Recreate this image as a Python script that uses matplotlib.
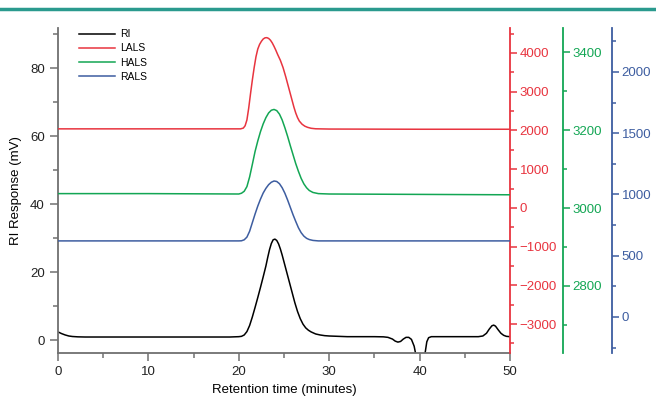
import matplotlib
matplotlib.use("Agg")
import matplotlib.pyplot as plt
from matplotlib.lines import Line2D

plt.rcParams["font.family"] = ["Liberation Sans", "DejaVu Sans"]

# RI detector (mV), left axis
ri_t = [0, 0.4, 0.8, 1.2, 1.6, 2.2, 3, 5, 10, 15, 19, 20, 20.3, 20.6, 20.9, 21.2,
        21.5, 21.8, 22.1, 22.4, 22.7, 23.0, 23.2, 23.4, 23.6, 23.8, 24.0, 24.2,
        24.4, 24.6, 24.8, 25.0, 25.3, 25.6, 25.9, 26.2, 26.5, 26.8, 27.1, 27.4,
        27.7, 28.0, 28.5, 29.0, 29.5, 30, 32, 35, 36, 36.5, 37, 37.3, 37.6, 37.9,
        38.2, 38.5, 38.8, 39.1, 39.4, 39.6, 39.8, 40.4, 40.6, 40.8, 41.0, 41.3,
        42, 45, 46.5, 47, 47.4, 47.7, 48.0, 48.2, 48.4, 48.7, 49.0, 49.3, 49.6, 50]
ri_v = [2.4, 1.9, 1.5, 1.2, 1.05, 0.95, 0.9, 0.9, 0.9, 0.9, 0.9, 1.0, 1.1, 1.5,
        2.5, 4.3, 6.8, 9.6, 12.5, 15.5, 18.6, 21.8, 24.3, 26.6, 28.4, 29.5, 29.7,
        29.3, 28.3, 26.8, 25.0, 23.0, 20.0, 17.0, 14.0, 11.0, 8.4, 6.3, 4.7, 3.6,
        2.9, 2.4, 1.8, 1.5, 1.3, 1.2, 1.0, 1.0, 0.95, 0.8, 0.3, -0.3, -0.6, -0.4,
        0.3, 0.8, 0.8, 0.2, -1.8, -4.5, -8, -8, -4, -0.5, 0.7, 1.0, 1.0, 1.0, 1.0,
        1.2, 2.0, 3.2, 4.2, 4.4, 4.1, 3.0, 2.0, 1.4, 1.1, 1.0]

# LALS, red axis
lals_t = [0, 10, 20, 20.2, 20.5, 20.7, 20.9, 21.1, 21.3, 21.5, 21.7, 21.9, 22.1,
          22.3, 22.5, 22.7, 22.9, 23.1, 23.3, 23.5, 23.7, 23.9, 24.1, 24.3, 24.6,
          24.9, 25.2, 25.5, 25.8, 26.1, 26.3, 26.5, 26.7, 27.0, 27.3, 27.6, 28.0,
          28.5, 30, 40, 50]
lals_v = [2040, 2040, 2040, 2040, 2060, 2120, 2270, 2580, 2950, 3300, 3620, 3900,
          4100, 4220, 4300, 4360, 4390, 4395, 4375, 4330, 4260, 4170, 4070, 3960,
          3810, 3620, 3380, 3120, 2860, 2600, 2450, 2330, 2240, 2160, 2110, 2080,
          2055, 2042, 2035, 2030, 2030]

# HALS, green axis
hals_t = [0, 10, 20, 20.3, 20.6, 20.9, 21.2, 21.5, 21.8, 22.1, 22.4, 22.7, 23.0,
          23.3, 23.6, 23.9, 24.2, 24.5, 24.8, 25.1, 25.4, 25.7, 26.0, 26.3, 26.6,
          26.9, 27.2, 27.5, 27.8, 28.2, 28.8, 30, 40, 50]
hals_v = [3037, 3037, 3036, 3038, 3043, 3055, 3080, 3112, 3145, 3172, 3196, 3216,
          3232, 3244, 3251, 3253, 3250, 3241, 3226, 3206, 3184, 3160, 3137, 3114,
          3094, 3076, 3062, 3052, 3045, 3040, 3037, 3036, 3035, 3034]

# RALS, blue axis
rals_t = [0, 10, 20, 20.3, 20.6, 20.9, 21.2, 21.5, 21.8, 22.1, 22.4, 22.7, 23.0,
          23.3, 23.6, 23.9, 24.2, 24.5, 24.8, 25.1, 25.4, 25.7, 26.0, 26.3, 26.6,
          26.9, 27.2, 27.5, 27.8, 28.2, 28.8, 30, 40, 50]
rals_v = [621, 621, 621, 622, 630, 652, 700, 770, 840, 905, 962, 1012, 1050, 1080,
          1100, 1110, 1106, 1088, 1055, 1010, 955, 895, 835, 780, 728, 688, 660,
          642, 632, 625, 621, 621, 621, 621]

c_red = "#e8343f"
c_green = "#13a654"
c_blue = "#3d5da0"
c_gray = "#707070"

fig = plt.figure(figsize=(6.56, 4.13), dpi=100)
fig.add_artist(Line2D([0, 1], [0.977, 0.977], color="#2a9a8e", lw=2.5,
                      transform=fig.transFigure))

ax = fig.add_axes([0.0884, 0.1453, 0.689, 0.7869])
ax2 = ax.twinx()
ax3 = ax.twinx()
ax4 = ax.twinx()

for a in (ax, ax2, ax3, ax4):
    a.set_xlim(0, 50)
    a.spines["top"].set_visible(False)
    a.patch.set_visible(False)

ax.spines["right"].set_visible(False)
for s in ("left", "bottom"):
    ax.spines[s].set_color(c_gray)
    ax.spines[s].set_linewidth(1.3)

for a in (ax2, ax3, ax4):
    a.spines["left"].set_visible(False)
    a.spines["bottom"].set_visible(False)

ax3.spines["right"].set_position(("axes", 1.117))
ax4.spines["right"].set_position(("axes", 1.2257))

l1, = ax.plot(ri_t, ri_v, color="black", lw=1.1, label="RI")
l2, = ax2.plot(lals_t, lals_v, color=c_red, lw=1.1, label="LALS")
l3, = ax3.plot(hals_t, hals_v, color=c_green, lw=1.1, label="HALS")
l4, = ax4.plot(rals_t, rals_v, color=c_blue, lw=1.1, label="RALS")

ax.set_ylim(-3.8, 91.8)
ax.set_yticks([0, 20, 40, 60, 80])
ax.set_yticks(range(10, 91, 20), minor=True)
ax.set_xticks([0, 10, 20, 30, 40, 50])
ax.set_xticks(range(5, 50, 10), minor=True)

ax2.set_ylim(-3747, 4644)
ax2.set_yticks(range(-3000, 4001, 1000))
ax2.set_yticks(range(-3500, 4501, 1000), minor=True)

ax3.set_ylim(2628, 3462)
ax3.set_yticks([2800, 3000, 3200, 3400])
ax3.set_yticks([2700, 2900, 3100, 3300], minor=True)

ax4.set_ylim(-294, 2359)
ax4.set_yticks([0, 500, 1000, 1500, 2000])
ax4.set_yticks([-250, 250, 750, 1250, 1750, 2250], minor=True)

ax.tick_params(axis="both", which="major", length=6, width=1.1, color=c_gray,
               labelsize=9.5, labelcolor="#222222")
ax.tick_params(axis="both", which="minor", length=3.5, width=1.1, color=c_gray)

for a, c in ((ax2, c_red), (ax3, c_green), (ax4, c_blue)):
    a.spines["right"].set_color(c)
    a.spines["right"].set_linewidth(1.3)
    a.tick_params(axis="y", which="major", length=5, width=1.1, color=c,
                  labelsize=9.5, labelcolor=c, pad=2)
    a.tick_params(axis="y", which="minor", length=3, width=1.1, color=c)

ax.set_xlabel("Retention time (minutes)", fontsize=9.5, labelpad=4)
ax.set_ylabel("RI Response (mV)", fontsize=9.5, labelpad=6)

ax.legend(handles=[l1, l2, l3, l4], loc="upper left", bbox_to_anchor=(0.025, 1.025),
          frameon=False, fontsize=7.5, handlelength=3.5, labelspacing=0.4,
          handletextpad=0.5)

fig.savefig("out.png", dpi=100)
